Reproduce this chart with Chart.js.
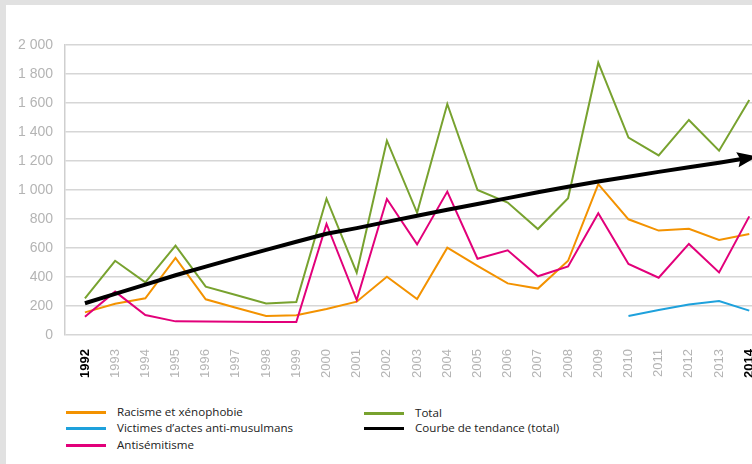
<!DOCTYPE html>
<html lang="fr">
<head>
<meta charset="UTF-8">
<title>Actes racistes, antisémites et anti-musulmans</title>
<script src="https://cdn.jsdelivr.net/npm/chart.js"></script>
<style>
    html, body { margin: 0; padding: 0; }
    body {
        width: 752px; height: 464px; overflow: hidden;
        background: #e1e1e1; /* cadre gris en haut et a gauche */
        position: relative;
        font-family: "Open Sans", "Liberation Sans", sans-serif;
    }
    .sheet { position: absolute; left: 6px; top: 5px; right: 0; bottom: 0; background: #fff; }
    #wrap { position: absolute; left: 0; top: 0; width: 800px; height: 385px; }
    .leg { position: absolute; font-size: 11.6px; color: #222; line-height: 14px; white-space: nowrap; }
    .leg i { position: absolute; left: -51px; top: 6px; width: 40px; height: 2.5px; }
</style>
</head>
<body>
<div class="sheet"></div>
<div id="wrap"><canvas id="chart" width="800" height="385"></canvas></div>

<div class="leg" style="left:117px; top:405px"><i style="background:#f39200"></i>Racisme et xénophobie</div>
<div class="leg" style="left:117px; top:421px"><i style="background:#1ea1dc"></i>Victimes d’actes anti-musulmans</div>
<div class="leg" style="left:117px; top:438px"><i style="background:#e2007a"></i>Antisémitisme</div>
<div class="leg" style="left:415px; top:406px"><i style="background:#78a22f"></i>Total</div>
<div class="leg" style="left:415px; top:421px"><i style="background:#000"></i>Courbe de tendance (total)</div>

<script>
// données
const years = [1992, 1993, 1994, 1995, 1996, 1997, 1998, 1999, 2000, 2001, 2002,
               2003, 2004, 2005, 2006, 2007, 2008, 2009, 2010, 2011, 2012, 2013, 2014];
const racisme = [156, 215, 253, 531, 246, 188, 131, 136, 179, 230, 402,
                 248, 602, 476, 356, 320, 512, 1041, 798, 720, 733, 655, 697];
const antisemitisme = [126, 299, 138, 94, 93, 92, 90, 89, 766, 241, 938,
                       625, 989, 526, 584, 405, 473, 839, 490, 395, 628, 432, 818];
const total = [253, 512, 363, 616, 333, 276, 218, 228, 940, 430, 1340,
               843, 1593, 1000, 913, 731, 943, 1878, 1361, 1239, 1483, 1271, 1621];
const musulmansYears = [2010, 2011, 2012, 2013, 2014];
const musulmans = [131, 172, 211, 234, 168];
const tendance = [219, 284, 348, 412, 472, 530, 587, 643, 698, 737, 780,
                  822, 864, 904, 944, 984, 1023, 1058, 1092, 1125, 1157, 1188, 1222];
const yTicks = [0, 200, 400, 600, 800, 1000, 1200, 1400, 1600, 1800, 2000];

const pts = (xs, ys) => xs.map((x, i) => ({ x: x, y: ys[i] }));
const isEnd = c => !!(c && c.tick && (c.tick.value === 1992 || c.tick.value === 2014));

// fleche au bout de la courbe de tendance
const arrowHead = {
    id: 'arrowHead',
    afterDatasetsDraw(chart) {
        const meta = chart.getDatasetMeta(4);
        const n = meta.data.length;
        const a = meta.data[n - 2], b = meta.data[n - 1];
        const ang = Math.atan2(b.y - a.y, b.x - a.x);
        const ctx = chart.ctx;
        ctx.save();
        ctx.translate(b.x, b.y);
        ctx.rotate(ang);
        ctx.beginPath();
        ctx.moveTo(8, 0);
        ctx.lineTo(-12, -7.5);
        ctx.lineTo(-9, 0);
        ctx.lineTo(-12, 7.5);
        ctx.closePath();
        ctx.fillStyle = '#000';
        ctx.fill();
        ctx.restore();
    }
};

const line = (data, color, order, width) => ({
    data: data, borderColor: color, borderWidth: width || 2, pointRadius: 0,
    tension: 0, fill: false, order: order
});

new Chart(document.getElementById('chart'), {
    type: 'line',
    data: {
        datasets: [
            Object.assign(line(pts(years, racisme), '#f39200', 3), { label: 'Racisme et xénophobie' }),
            Object.assign(line(pts(musulmansYears, musulmans), '#1ea1dc', 4), { label: 'Victimes d’actes anti-musulmans' }),
            Object.assign(line(pts(years, antisemitisme), '#e2007a', 2), { label: 'Antisémitisme' }),
            Object.assign(line(pts(years, total), '#78a22f', 1), { label: 'Total' }),
            Object.assign(line(pts(years, tendance), '#000', 0, 4), { label: 'Courbe de tendance (total)' })
        ]
    },
    options: {
        responsive: false,
        animation: false,
        layout: { padding: { top: 45, left: 0, right: 0, bottom: 0 } },
        plugins: { legend: { display: false }, tooltip: { enabled: false } },
        scales: {
            x: {
                type: 'linear',
                min: 1991.34,
                max: 2015.68,
                afterBuildTicks: s => { s.ticks = years.map(v => ({ value: v })); },
                afterFit: s => { s.height = 50; },
                grid: { display: false },
                border: { display: false },
                ticks: {
                    autoSkip: false,
                    minRotation: 90,
                    maxRotation: 90,
                    padding: 6,
                    callback: v => String(v),
                    color: c => isEnd(c) ? '#000' : '#b4b4b4',
                    font: c => ({
                        family: '"Liberation Sans", Arial, sans-serif',
                        size: 13,
                        weight: isEnd(c) ? 'bold' : 'normal'
                    })
                }
            },
            y: {
                min: 0,
                max: 2000,
                afterBuildTicks: s => { s.ticks = yTicks.map(v => ({ value: v })); },
                afterFit: s => { s.width = 65; },
                grid: { color: '#d6d6d6', lineWidth: 1.5, drawTicks: false },
                border: { display: true, color: '#cfcfcf', width: 1.5 },
                ticks: {
                    padding: 12,
                    color: '#b4b4b4',
                    font: { family: '"Liberation Sans", Arial, sans-serif', size: 14 },
                    callback: v => String(v).replace(/\B(?=(\d{3})+(?!\d))/g, ' ')
                }
            }
        }
    },
    plugins: [arrowHead]
});
</script>
</body>
</html>
